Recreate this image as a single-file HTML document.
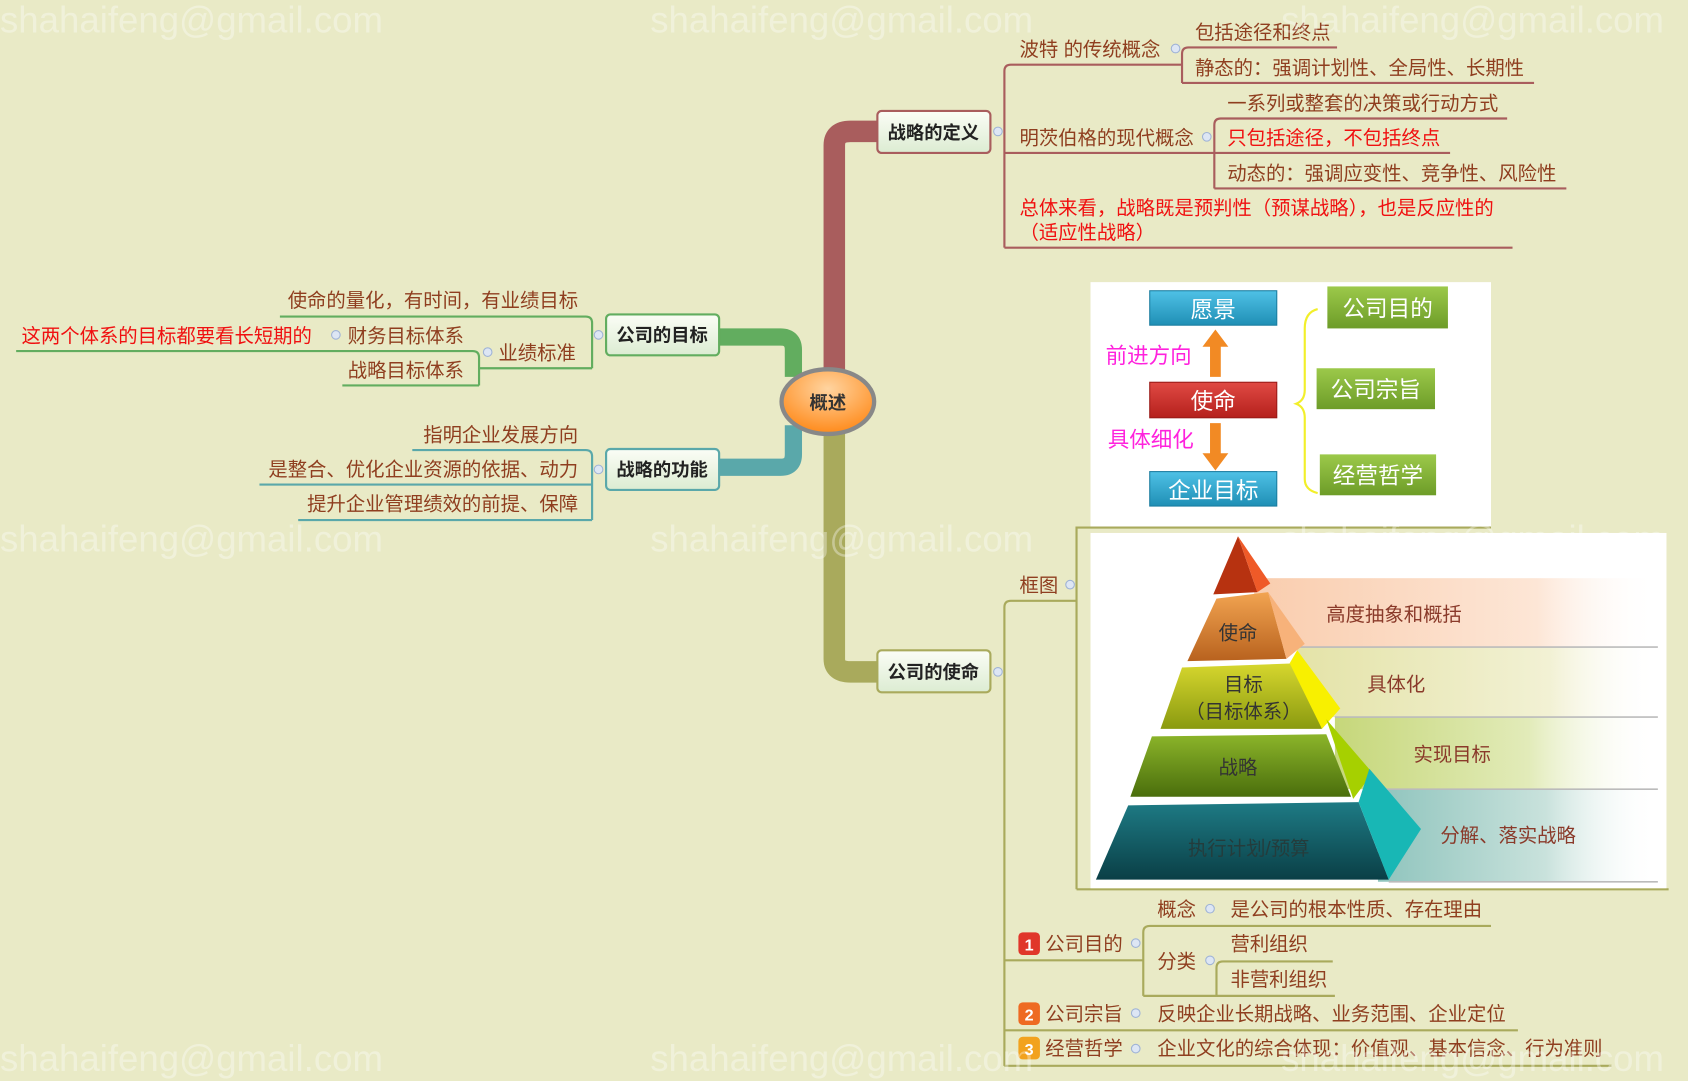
<!DOCTYPE html>
<html><head><meta charset="utf-8"><style>
html,body{margin:0;padding:0;background:#e9eac6;}
svg{display:block;}
text{font-family:"Liberation Sans","Noto Sans CJK SC",sans-serif;}
</style></head><body>
<svg width="1688" height="1081" viewBox="0 0 1568 1004" xmlns="http://www.w3.org/2000/svg">
<defs>
<linearGradient id="nodeg" x1="0" y1="0" x2="0" y2="1"><stop offset="0" stop-color="#fbfdf6"/><stop offset="1" stop-color="#dcecd2"/></linearGradient>
<radialGradient id="org" cx="0.5" cy="0.3" r="0.7"><stop offset="0" stop-color="#ffd4a0"/><stop offset="1" stop-color="#ff8a1a"/></radialGradient>
<linearGradient id="blue" x1="0" y1="0" x2="0" y2="1"><stop offset="0" stop-color="#4fc1e6"/><stop offset="1" stop-color="#1f8fb5"/></linearGradient>
<linearGradient id="red" x1="0" y1="0" x2="0" y2="1"><stop offset="0" stop-color="#e04a44"/><stop offset="1" stop-color="#b5201c"/></linearGradient>
<linearGradient id="grn" x1="0" y1="0" x2="0" y2="1"><stop offset="0" stop-color="#9cc94a"/><stop offset="1" stop-color="#6d9c28"/></linearGradient>
<linearGradient id="b1" x1="0" y1="0" x2="1" y2="0"><stop offset="0" stop-color="#f9cdae"/><stop offset="0.7" stop-color="#fde6d6"/><stop offset="1" stop-color="#fff" stop-opacity="0"/></linearGradient>
<linearGradient id="b2" x1="0" y1="0" x2="1" y2="0"><stop offset="0" stop-color="#e4e3a8"/><stop offset="0.7" stop-color="#f2f1d4"/><stop offset="1" stop-color="#fff" stop-opacity="0"/></linearGradient>
<linearGradient id="b3" x1="0" y1="0" x2="1" y2="0"><stop offset="0" stop-color="#c6d77a"/><stop offset="0.6" stop-color="#e2ebb9"/><stop offset="1" stop-color="#fff" stop-opacity="0"/></linearGradient>
<linearGradient id="b4" x1="0" y1="0" x2="1" y2="0"><stop offset="0" stop-color="#8fc4bd"/><stop offset="0.6" stop-color="#c9e2dc"/><stop offset="1" stop-color="#fff" stop-opacity="0"/></linearGradient>
<linearGradient id="p1" x1="0" y1="0" x2="0" y2="1"><stop offset="0" stop-color="#f2a451"/><stop offset="1" stop-color="#b8621e"/></linearGradient>
<linearGradient id="p2" x1="0" y1="0" x2="0" y2="1"><stop offset="0" stop-color="#d7d72e"/><stop offset="1" stop-color="#8a9a10"/></linearGradient>
<linearGradient id="p3" x1="0" y1="0" x2="0" y2="1"><stop offset="0" stop-color="#8cb52a"/><stop offset="1" stop-color="#4a6e0c"/></linearGradient>
<linearGradient id="p4" x1="0" y1="0" x2="0" y2="1"><stop offset="0" stop-color="#1e7b85"/><stop offset="1" stop-color="#0a3f46"/></linearGradient>
</defs>
<rect width="1568" height="1004" fill="#e9eac6"/>

<path d="M775 345 L775 135 Q775 122 790 122 L815 122" fill="none" stroke="#a95d5d" stroke-width="20"/>
<path d="M775 400 L775 612 Q775 624 790 624 L815 624" fill="none" stroke="#a9aa5c" stroke-width="20"/>
<path d="M668 313 L725 313 Q737 313 737 325 L737 350" fill="none" stroke="#62ad5f" stroke-width="16"/>
<path d="M668 434 L725 434 Q737 434 737 422 L737 395" fill="none" stroke="#5aa8aa" stroke-width="16"/>

<ellipse cx="769" cy="373" rx="43" ry="30" fill="url(#org)" stroke="#888" stroke-width="4"/>
<text x="769" y="380" font-size="17" font-weight="bold" fill="#333" text-anchor="middle">概述</text>

<g font-size="17" font-weight="bold" fill="#222" text-anchor="middle">
<rect x="815" y="103" width="105" height="39" rx="4" fill="url(#nodeg)" stroke="#a95d5d" stroke-width="2"/><text x="867" y="129">战略的定义</text>
<rect x="563" y="292" width="105" height="38" rx="4" fill="url(#nodeg)" stroke="#62ad5f" stroke-width="2"/><text x="615" y="317">公司的目标</text>
<rect x="563" y="417" width="105" height="38" rx="4" fill="url(#nodeg)" stroke="#5aa8aa" stroke-width="2"/><text x="615" y="442">战略的功能</text>
<rect x="815" y="604" width="105" height="39" rx="4" fill="url(#nodeg)" stroke="#a9aa5c" stroke-width="2"/><text x="867" y="630">公司的使命</text>
</g>

<g fill="none" stroke="#a95d5d" stroke-width="2">
<path d="M933 230 L933 66 Q933 60 939 60 L1098 60"/>
<path d="M1098 77 L1098 50 Q1098 44 1104 44 L1242 44"/>
<path d="M1098 77 L1425 77"/>
<path d="M933 142 L1128 142"/>
<path d="M1128 175 L1128 116 Q1128 110 1134 110 L1400 110"/>
<path d="M1128 142 L1347 142"/>
<path d="M1128 175 L1455 175"/>
<path d="M933 230 L1405 230"/>
</g>
<g font-size="18" fill="#8f3e1f">
<text x="947" y="52">波特 的传统概念</text>
<text x="1110" y="36">包括途径和终点</text>
<text x="1110" y="69">静态的：强调计划性、全局性、长期性</text>
<text x="947" y="134">明茨伯格的现代概念</text>
<text x="1140" y="102">一系列或整套的决策或行动方式</text>
<text x="1140" y="134" fill="#f01010">只包括途径，不包括终点</text>
<text x="1140" y="167">动态的：强调应变性、竞争性、风险性</text>
<text x="947" y="199" fill="#f01010">总体来看，战略既是预判性（预谋战略），也是反应性的</text>
<text x="947" y="222" fill="#f01010">（适应性战略）</text>
</g>

<rect x="1013" y="262" width="372" height="228" fill="#fff"/>
<rect x="1068" y="270" width="118" height="32" fill="url(#blue)" stroke="#1a7da0"/>
<rect x="1068" y="355" width="118" height="33" fill="url(#red)" stroke="#9a1a18"/>
<rect x="1068" y="438" width="118" height="32" fill="url(#blue)" stroke="#1a7da0"/>
<g font-size="21" fill="#fff" text-anchor="middle"><text x="1127" y="295">愿景</text><text x="1127" y="380">使命</text><text x="1127" y="463">企业目标</text></g>
<path d="M1124 350 L1124 322 L1117 322 L1129 306 L1141 322 L1134 322 L1134 350 Z" fill="#f28a24"/>
<path d="M1124 393 L1124 421 L1117 421 L1129 437 L1141 421 L1134 421 L1134 393 Z" fill="#f28a24"/>
<g font-size="20" fill="#ff22dd"><text x="1027" y="337">前进方向</text><text x="1029" y="415">具体细化</text></g>
<path d="M1224 287 Q1212 290 1212 305 L1212 362 Q1212 372 1204 375 Q1212 378 1212 388 L1212 445 Q1212 455 1224 458" fill="none" stroke="#f2ef2a" stroke-width="2"/>
<rect x="1233" y="266" width="112" height="39" fill="url(#grn)"/>
<rect x="1223" y="342" width="110" height="38" fill="url(#grn)"/>
<rect x="1226" y="422" width="108" height="38" fill="url(#grn)"/>
<g font-size="21" fill="#fff" text-anchor="middle"><text x="1289" y="294">公司目的</text><text x="1278" y="369">公司宗旨</text><text x="1280" y="449">经营哲学</text></g>

<g fill="none" stroke="#a9aa5c" stroke-width="2">
<path d="M933 990 L933 564 Q933 558 939 558 L1000 558"/>
<path d="M1000 826 L1000 490 L1385 490"/>
<path d="M1000 826 L1550 826"/>
<path d="M933 892 L1062 892"/>
<path d="M1062 925 L1062 866 Q1062 860 1068 860 L1385 860"/>
<path d="M1062 925 L1130 925"/>
<path d="M1130 925 L1130 899 Q1130 893 1136 893 L1238 893"/>
<path d="M1130 925 L1240 925"/>
<path d="M933 957 L1410 957"/>
<path d="M933 990 L1497 990"/>
</g>
<text x="947" y="550" font-size="18" fill="#8f3e1f">框图</text>

<rect x="1013" y="495" width="535" height="330" fill="#fff"/>
<rect x="1165" y="537" width="375" height="64" fill="url(#b1)"/>
<rect x="1205" y="601" width="335" height="65" fill="url(#b2)"/>
<rect x="1240" y="666" width="300" height="67" fill="url(#b3)"/>
<rect x="1280" y="733" width="260" height="86" fill="url(#b4)"/>
<g stroke="#bbb" stroke-width="1.5"><line x1="1205" y1="601" x2="1540" y2="601"/><line x1="1240" y1="666" x2="1540" y2="666"/><line x1="1275" y1="733" x2="1540" y2="733"/><line x1="1290" y1="819" x2="1540" y2="819"/></g>
<polygon points="1150,498 1127,552 1168,550" fill="#b73210"/>
<polygon points="1150,498 1168,550 1180,542" fill="#ef5a28"/>
<polygon points="1130,556 1178,550 1195,612 1103,614" fill="url(#p1)"/>
<polygon points="1178,550 1212,598 1195,612" fill="#f7b27a"/>
<polygon points="1098,620 1205,616 1228,677 1078,677" fill="url(#p2)"/>
<polygon points="1205,604 1245,658 1228,677 1198,616" fill="#f8f000"/>
<polygon points="1070,684 1232,682 1255,740 1050,740" fill="url(#p3)"/>
<polygon points="1232,668 1275,718 1257,742" fill="#a6d000"/>
<polygon points="1048,748 1262,745 1290,817 1018,817" fill="url(#p4)"/>
<polygon points="1262,745 1272,714 1320,770 1290,817" fill="#18b7b5"/>
<g font-size="18" fill="#333" text-anchor="middle" font-family="Liberation Serif,Noto Serif CJK SC,serif">
<text x="1150" y="594">使命</text><text x="1155" y="642">目标</text><text x="1155" y="667">（目标体系）</text>
<text x="1150" y="719">战略</text><text x="1160" y="794" fill="#243c3c">执行计划/预算</text>
</g>
<g font-size="18" fill="#8a3a2a" font-family="Liberation Serif,Noto Serif CJK SC,serif">
<text x="1232" y="577">高度抽象和概括</text><text x="1270" y="642">具体化</text><text x="1313" y="707">实现目标</text><text x="1338" y="782">分解、落实战略</text>
</g>

<g font-size="18" fill="#8f3e1f">
<rect x="946" y="866" width="20" height="21" rx="4" fill="#e0362a"/><text x="956" y="883" fill="#fff" text-anchor="middle" font-weight="bold" font-size="15">1</text>
<text x="971" y="883">公司目的</text>
<text x="1075" y="851">概念</text><text x="1143" y="851">是公司的根本性质、存在理由</text>
<text x="1075" y="899">分类</text>
<text x="1143" y="883">营利组织</text><text x="1143" y="916">非营利组织</text>
<rect x="946" y="931" width="20" height="21" rx="4" fill="#ee6a22"/><text x="956" y="948" fill="#fff" text-anchor="middle" font-weight="bold" font-size="15">2</text>
<text x="971" y="948">公司宗旨</text><text x="1075" y="948">反映企业长期战略、业务范围、企业定位</text>
<rect x="946" y="963" width="20" height="21" rx="4" fill="#f2a21e"/><text x="956" y="980" fill="#fff" text-anchor="middle" font-weight="bold" font-size="15">3</text>
<text x="971" y="980">经营哲学</text><text x="1075" y="980">企业文化的综合体现：价值观、基本信念、行为准则</text>
</g>

<g fill="none" stroke="#62ad5f" stroke-width="2">
<path d="M550 342 L550 300 Q550 294 544 294 L260 294"/>
<path d="M550 342 L445 342"/>
<path d="M445 358 L445 332 Q445 326 439 326 L15 326"/>
<path d="M445 358 L318 358"/>
</g>
<g font-size="18" fill="#8f3e1f">
<text x="537" y="285" text-anchor="end">使命的量化，有时间，有业绩目标</text>
<text x="463" y="334">业绩标准</text>
<text x="323" y="318">财务目标体系</text>
<text x="20" y="318" fill="#f01010">这两个体系的目标都要看长短期的</text>
<text x="323" y="350">战略目标体系</text>
</g>
<g fill="none" stroke="#5aa8aa" stroke-width="2">
<path d="M550 483 L550 424 Q550 418 544 418 L383 418"/>
<path d="M550 450 L241 450"/>
<path d="M550 483 L277 483"/>
</g>
<g font-size="18" fill="#8f3e1f" text-anchor="end">
<text x="537" y="410">指明企业发展方向</text>
<text x="537" y="442">是整合、优化企业资源的依据、动力</text>
<text x="537" y="474">提升企业管理绩效的前提、保障</text>
</g>

<g fill="#dde6f4" stroke="#9fb3d6" stroke-width="1">
<circle cx="927" cy="122" r="4"/><circle cx="927" cy="624" r="4"/><circle cx="1092" cy="45" r="4"/><circle cx="1121" cy="127" r="4"/>
<circle cx="556" cy="311" r="4"/><circle cx="556" cy="436" r="4"/><circle cx="453" cy="327" r="4"/><circle cx="312" cy="311" r="4"/>
<circle cx="994" cy="543" r="4"/><circle cx="1055" cy="876" r="4"/><circle cx="1124" cy="844" r="4"/><circle cx="1124" cy="892" r="4"/>
<circle cx="1055" cy="941" r="4"/><circle cx="1055" cy="974" r="4"/>
</g>

<g font-size="34" fill="#ffffff" fill-opacity="0.35">
<text x="0" y="30">shahaifeng@gmail.com</text><text x="604" y="30">shahaifeng@gmail.com</text><text x="1190" y="30">shahaifeng@gmail.com</text>
<text x="0" y="512">shahaifeng@gmail.com</text><text x="604" y="512">shahaifeng@gmail.com</text><text x="1190" y="512">shahaifeng@gmail.com</text>
<text x="0" y="995">shahaifeng@gmail.com</text><text x="604" y="995">shahaifeng@gmail.com</text><text x="1190" y="995">shahaifeng@gmail.com</text>
</g>
</svg>
</body></html>
